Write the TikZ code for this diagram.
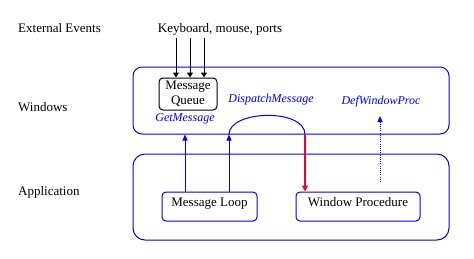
\documentclass[tikz,border=0pt]{standalone}
\usepackage{fontspec}
\setmainfont{Liberation Serif}
\usetikzlibrary{arrows.meta}
\definecolor{wblue}{RGB}{0,0,255}
\definecolor{wred}{RGB}{240,0,50}
\begin{document}
\begin{tikzpicture}[x=1pt,y=-1pt,
  lbl/.style={font=\fontsize{13}{15}\selectfont, inner sep=0pt},
  api/.style={font=\fontsize{12}{14}\selectfont\itshape, text=wblue, inner sep=0pt},
  region/.style={draw=wblue, line width=1pt, rounded corners=9pt, minimum width=316pt},
  proc/.style={draw=wblue, line width=1pt, rounded corners=4pt, minimum height=29pt,
    text height=12.5pt, text depth=12.5pt, inner sep=2pt, font=\fontsize{13}{15}\selectfont},
  blk/.style={-{Triangle[length=5pt,width=6pt]}, line width=1pt, black},
  bluearr/.style={-{Triangle[length=6pt,width=5pt]}, line width=1pt, wblue},
]
\useasboundingbox (0,0) rectangle (474,258);
% regions
\node[region, minimum height=67pt] (win) at (291,100.5) {};
\node[region, minimum height=86pt, rounded corners=12pt] (app) at (291,197) {};
% left labels
\node[lbl, anchor=west] (ext) at (18,28) {External Events};
\node[lbl, anchor=west] (winlbl) at (18,107) {Windows};
\node[lbl, anchor=west] (applbl) at (18,192) {Application};
% sources
\node[lbl] (kb) at (220,29) {Keyboard, mouse, ports};
\node[draw=black, line width=1pt, rounded corners=4pt, minimum width=58pt, minimum height=32pt,
  inner sep=0pt, align=center, font=\fontsize{13}{15}\selectfont] (mq) at (188,94) {Message\\Queue};
\node[proc, minimum width=95pt] (ml) at (209.5,206.5) {Message Loop};
\node[proc, minimum width=124pt] (wp) at (358,206.5) {Window Procedure};
% api labels
\node[api] (getm) at (185,119) {GetMessage};
\node[api] (disp) at (271,100) {DispatchMessage};
\node[api] (dwp) at (381,102) {DefWindowProc};
% keyboard arrows
\foreach \x/\n in {176/a,190/b,204/c}{
  \coordinate (kb\n) at (\x,38);
  \draw[blk] (kb\n) -- (kb\n |- mq.north);
}
% message loop arrows
\coordinate (g1) at (185,0);
\coordinate (g2) at (229,0);
\coordinate (g3) at (305,0);
\draw[bluearr] (ml.north -| g1) -- (win.south -| g1);
\draw[bluearr] (ml.north -| g2) -- (win.south -| g2);
% dispatch arc
\coordinate (arcA) at (win.south -| g2);
\coordinate (arcB) at (win.south -| g3);
\draw[wblue, line width=1pt] (arcA) .. controls (229,110) and (305,108) .. (arcB);
\draw[wred, line width=2pt, -{Triangle[length=6pt,width=6pt]}] (arcB) -- (wp.north -| g3);
% DefWindowProc dotted
\coordinate (dsrc) at (380,182);
\coordinate (dtip) at (380,116);
\draw[wblue, line width=1pt, dash pattern=on 1pt off 1.2pt, -{Triangle[length=6pt,width=5pt]}] (dsrc) -- (dtip);
\end{tikzpicture}
\end{document}
